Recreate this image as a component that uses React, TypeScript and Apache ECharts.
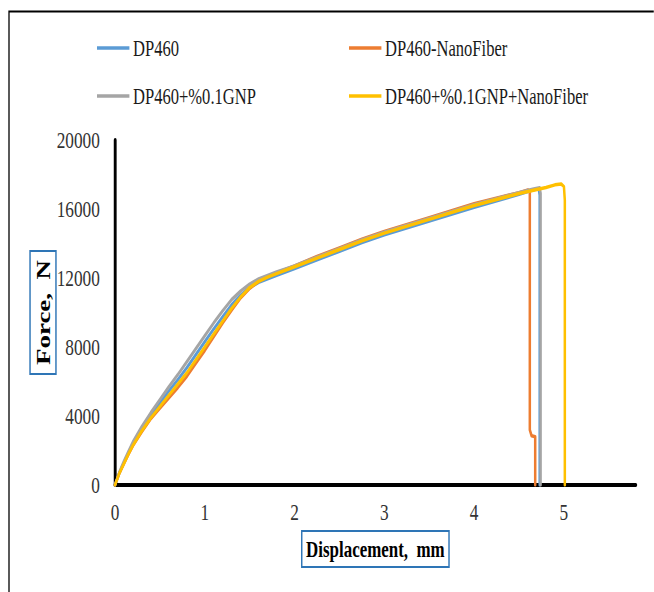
import React, { useEffect, useRef } from "react";
import * as echarts from "echarts";

// ---- data (displacement in mm, force in N) ----
const seriesNames = ["DP460", "DP460-NanoFiber", "DP460+%0.1GNP", "DP460+%0.1GNP+NanoFiber"];
const seriesColors = ["#5B9BD5", "#ED7D31", "#A5A5A5", "#FFC000"];

const dispDP460 = [0, 0.05, 0.1, 0.15, 0.2, 0.3, 0.4, 0.5, 0.6, 0.7, 0.8, 0.9, 1.0, 1.1, 1.2, 1.3, 1.4, 1.5, 1.6, 1.7, 1.8, 2.0, 2.25, 2.5, 2.75, 3.0, 3.5, 4.0, 4.5, 4.65, 4.72, 4.73, 4.73];
const forceDP460 = [0, 720, 1300, 1850, 2380, 3250, 4050, 4750, 5450, 6100, 6800, 7550, 8300, 9050, 9750, 10450, 11000, 11450, 11750, 11950, 12150, 12550, 13050, 13550, 14050, 14500, 15300, 16100, 16850, 17100, 17180, 16800, 0];

const dispNano = [0, 0.05, 0.1, 0.15, 0.2, 0.3, 0.4, 0.5, 0.6, 0.7, 0.8, 0.9, 1.0, 1.1, 1.2, 1.3, 1.4, 1.5, 1.6, 1.7, 1.8, 2.0, 2.25, 2.5, 2.75, 3.0, 3.5, 4.0, 4.5, 4.6, 4.62, 4.62, 4.64, 4.68, 4.68];
const forceNano = [0, 700, 1250, 1780, 2280, 3100, 3850, 4450, 5050, 5650, 6300, 7050, 7800, 8600, 9400, 10150, 10850, 11400, 11800, 12100, 12300, 12700, 13250, 13750, 14250, 14700, 15500, 16300, 16950, 17100, 17050, 3200, 2850, 2800, 0];

const dispGNP = [0, 0.05, 0.1, 0.15, 0.2, 0.3, 0.4, 0.5, 0.6, 0.7, 0.8, 0.9, 1.0, 1.1, 1.2, 1.3, 1.4, 1.5, 1.6, 1.7, 1.8, 2.0, 2.25, 2.5, 2.75, 3.0, 3.5, 4.0, 4.5, 4.65, 4.73, 4.74, 4.74];
const forceGNP = [0, 760, 1380, 1950, 2500, 3400, 4200, 4950, 5700, 6400, 7150, 7900, 8650, 9400, 10100, 10750, 11250, 11650, 11950, 12150, 12350, 12700, 13200, 13700, 14200, 14650, 15450, 16250, 16950, 17150, 17230, 16900, 0];

const dispGNPNano = [0, 0.05, 0.1, 0.15, 0.2, 0.3, 0.4, 0.5, 0.6, 0.7, 0.8, 0.9, 1.0, 1.1, 1.2, 1.3, 1.4, 1.5, 1.6, 1.7, 1.8, 2.0, 2.25, 2.5, 2.75, 3.0, 3.5, 4.0, 4.5, 4.8, 4.9, 4.97, 5.0, 5.01, 5.01];
const forceGNPNano = [0, 700, 1250, 1800, 2300, 3150, 3900, 4550, 5200, 5850, 6500, 7250, 8000, 8750, 9500, 10250, 10900, 11450, 11800, 12050, 12250, 12650, 13150, 13650, 14150, 14600, 15400, 16200, 16900, 17250, 17400, 17450, 17300, 16500, 0];

const yTicks = [0, 4000, 8000, 12000, 16000, 20000];
const xTicks = [0, 1, 2, 3, 4, 5];

const xAxisTitle = "Displacement,  mm";
const yAxisTitle = "Force,  N";

// ---- layout ----
const SQUEEZE = 0.72; // the reference is horizontally condensed
const PAGE_W = 654;
const PAGE_H = 592;
const CHART_W = PAGE_W / SQUEEZE;
const FONT = '"Liberation Serif", "Times New Roman", serif';

const zip = (xs: number[], ys: number[]) => xs.map((x, i) => [x, ys[i]]);

export default function App() {
  const ref = useRef<HTMLDivElement>(null);

  useEffect(() => {
    if (!ref.current) return;
    const chart = echarts.init(ref.current, undefined, { renderer: "svg" });
    const datasets = [
      zip(dispDP460, forceDP460),
      zip(dispNano, forceNano),
      zip(dispGNP, forceGNP),
      zip(dispGNPNano, forceGNPNano),
    ];
    const legendText = { fontFamily: FONT, fontSize: 23, color: "#1a1a1a", lineHeight: 24 };
    const legendCommon = {
      orient: "vertical",
      top: 36,
      icon: "rect",
      itemWidth: 45,
      itemHeight: 3.5,
      itemGap: 24,
      padding: 0,
      textStyle: legendText,
    };
    const nameBox = {
      fontFamily: FONT,
      fontWeight: "bold",
      color: "#000",
      borderColor: "#2E75B6",
      borderWidth: 2,
    };
    chart.setOption({
      animation: false,
      backgroundColor: "#ffffff",
      grid: { left: 115 / SQUEEZE, right: 18 / SQUEEZE, top: 140, bottom: 107 },
      legend: [
        { ...legendCommon, data: [seriesNames[0], seriesNames[2]], left: 97 / SQUEEZE },
        { ...legendCommon, data: [seriesNames[1], seriesNames[3]], left: 349 / SQUEEZE },
      ],
      xAxis: {
        type: "value",
        min: xTicks[0],
        max: 5.8,
        interval: 1,
        name: xAxisTitle,
        nameLocation: "middle",
        nameGap: 46,
        nameMoveOverlap: false,
        nameTextStyle: { ...nameBox, fontSize: 23.5, lineHeight: 28, padding: [4, 6, 4, 6] },
        axisLine: { show: true, lineStyle: { color: "#000", width: 4 } },
        axisTick: { show: false },
        splitLine: { show: false },
        axisLabel: {
          margin: 15,
          fontFamily: FONT,
          fontSize: 24,
          color: "#333",
          formatter: (v: number) => (xTicks.includes(v) ? String(v) : ""),
        },
      },
      yAxis: {
        type: "value",
        min: yTicks[0],
        max: yTicks[yTicks.length - 1],
        interval: 4000,
        name: yAxisTitle,
        nameLocation: "middle",
        nameGap: 82,
        nameMoveOverlap: false,
        nameTextStyle: { ...nameBox, fontSize: 27, lineHeight: 30, padding: [3, 9, 3, 9] },
        axisLine: { show: true, lineStyle: { color: "#000", width: 4 } },
        axisTick: { show: false },
        splitLine: { show: false },
        axisLabel: {
          margin: 21,
          fontFamily: FONT,
          fontSize: 24,
          color: "#333",
          formatter: (v: number) => (yTicks.includes(v) ? String(v) : ""),
        },
      },
      series: datasets.map((d, i) => ({
        name: seriesNames[i],
        type: "line",
        data: d,
        showSymbol: false,
        symbol: "none",
        color: seriesColors[i],
        lineStyle: { width: 3.5, color: seriesColors[i], join: "round", cap: "round" },
        z: 2 + i,
      })),
      graphic: [
        {
          type: "rect",
          silent: true,
          shape: { x: 9 / SQUEEZE, y: 11.5, width: CHART_W + 50, height: PAGE_H + 50 },
          style: { fill: "none", stroke: "#000", lineWidth: 1.8 },
        },
      ],
    });
    return () => chart.dispose();
  }, []);

  return (
    <div style={{ position: "absolute", left: 0, top: 0, width: PAGE_W, height: PAGE_H, overflow: "hidden", background: "#fff" }}>
      <div
        ref={ref}
        style={{ width: CHART_W, height: PAGE_H, transform: `scaleX(${SQUEEZE})`, transformOrigin: "0 0" }}
      />
    </div>
  );
}
